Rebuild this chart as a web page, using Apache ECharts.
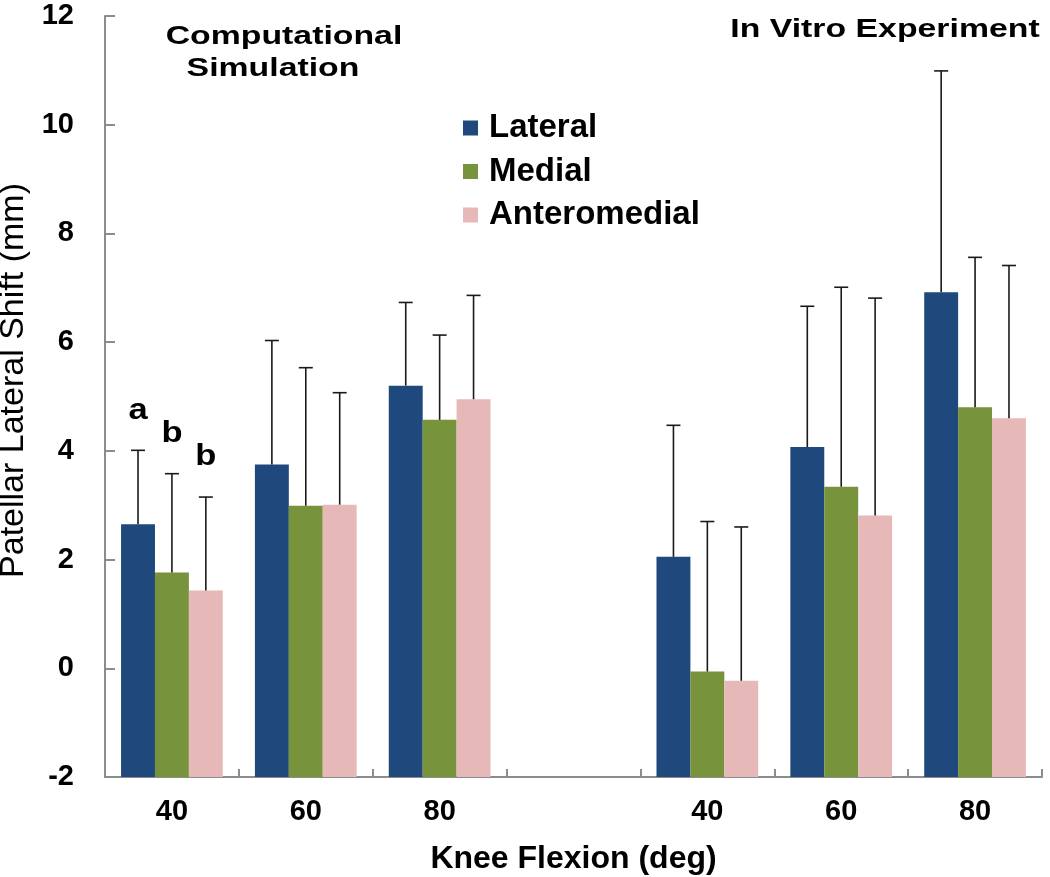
<!DOCTYPE html>
<html><head><meta charset="utf-8">
<script src="https://cdn.jsdelivr.net/npm/echarts@6/dist/echarts.min.js"></script>
<style>html,body{margin:0;padding:0;background:#fff}#c{width:1050px;height:877px}</style>
</head><body><div id="c"></div>
<script>
const categories = ['40', '60', '80', '', '40', '60', '80'];
const seriesNames = ['Lateral', 'Medial', 'Anteromedial'];
const lateral = [2.65, 3.75, 5.20, null, 2.05, 4.07, 6.92];
const medial = [1.76, 2.99, 4.57, null, -0.06, 3.34, 4.80];
const anteromedial = [1.43, 3.01, 4.95, null, -0.23, 2.81, 4.60];
const lateralSD = [1.36, 2.28, 1.53, null, 2.42, 2.59, 4.07];
const medialSD = [1.82, 2.54, 1.56, null, 2.76, 3.67, 2.76];
const anteromedialSD = [1.72, 2.06, 1.91, null, 2.83, 4.00, 2.81];
const lateralLetters = ['a', '', '', '', '', '', ''];
const medialLetters = ['b', '', '', '', '', '', ''];
const anteromedialLetters = ['b', '', '', '', '', '', ''];
const yTicks = { min: -2, max: 12, interval: 2 };

const colors = ['#1F497D', '#77933C', '#E6B9B8'];
const GAP = 0.24;
const FONT = 'Arial, "Liberation Sans", sans-serif';

const chart = echarts.init(document.getElementById('c'), null, { renderer: 'canvas' });

function barSeries(idx, vals) {
  return {
    type: 'bar', name: seriesNames[idx], data: vals,
    barGap: '0%', barCategoryGap: (GAP * 100) + '%',
    itemStyle: { color: colors[idx] }, z: 2
  };
}
function errSeries(idx, means, sds, letters) {
  const data = [];
  means.forEach((m, i) => { if (m !== null) data.push([i, m, sds[i]]); });
  return {
    type: 'custom', name: seriesNames[idx] + ' SD', z: 5, silent: true,
    encode: { x: 0, y: 1 },
    data: data,
    renderItem(params, api) {
      const i = api.value(0), m = api.value(1), sd = api.value(2);
      const catW = api.size([1, 0])[0];
      const bw = catW * (1 - GAP) / 3;
      const base = api.coord([i, m]);
      const x = base[0] + (idx - 1) * bw;
      const top = api.coord([i, m + sd])[1];
      const st = { stroke: '#1a1a1a', lineWidth: 1.6 };
      const children = [
        { type: 'line', shape: { x1: x, y1: base[1], x2: x, y2: top }, style: st },
        { type: 'line', shape: { x1: x - 7, y1: top, x2: x + 7, y2: top }, style: st }
      ];
      const letter = letters[i];
      if (letter) {
        children.push({ type: 'text', x: x, y: top - 40, scaleX: 1.15, style: {
          text: letter, fill: '#000', font: 'bold 30px ' + FONT, align: 'center', verticalAlign: 'middle' } });
      }
      return { type: 'group', children };
    }
  };
}

const option = {
  backgroundColor: '#fff',
  animation: false,
  grid: { left: 105, right: 8, top: 16, bottom: 100, containLabel: false, outerBoundsMode: 'none' },
  legend: {
    data: seriesNames.map(n => ({ name: n, icon: 'rect' })),
    orient: 'vertical', left: 458, top: 106,
    itemWidth: 15, itemHeight: 15, itemGap: 9.5,
    textStyle: { fontFamily: FONT, fontWeight: 'bold', fontSize: 33, color: '#000', lineHeight: 34, padding: [0, 0, 0, 6] }
  },
  xAxis: {
    type: 'category', data: categories,
    axisLine: { onZero: false, lineStyle: { color: '#8c8c8c', width: 2 } },
    axisTick: { show: true, inside: true, length: 8, lineStyle: { color: '#8c8c8c', width: 2 } },
    axisLabel: { fontFamily: FONT, fontWeight: 'bold', fontSize: 29, color: '#000', margin: 20 },
    name: 'Knee Flexion (deg)', nameLocation: 'middle', nameGap: 66,
    nameTextStyle: { fontFamily: FONT, fontWeight: 'bold', fontSize: 32, color: '#000' }
  },
  yAxis: {
    type: 'value', min: yTicks.min, max: yTicks.max, interval: yTicks.interval, startValue: yTicks.min,
    axisLine: { show: true, lineStyle: { color: '#8c8c8c', width: 2 } },
    axisTick: { show: true, inside: true, length: 10, lineStyle: { color: '#8c8c8c', width: 2 } },
    splitLine: { show: false },
    axisLabel: { fontFamily: FONT, fontWeight: 'bold', fontSize: 29, color: '#000', margin: 31 },
    name: 'Patellar Lateral Shift (mm)', nameLocation: 'middle', nameGap: 70,
    nameTextStyle: { fontFamily: FONT, fontWeight: 'normal', fontSize: 34, color: '#000', padding: [0, 0, 0, 32] }
  },
  graphic: [
    { type: 'text', x: 284, y: 37, scaleX: 1.3, style: { text: 'Computational', font: 'bold 26px ' + FONT, fill: '#000', align: 'center', verticalAlign: 'middle' } },
    { type: 'text', x: 273, y: 69, scaleX: 1.3, style: { text: 'Simulation', font: 'bold 26px ' + FONT, fill: '#000', align: 'center', verticalAlign: 'middle' } },
    { type: 'text', x: 885, y: 30, scaleX: 1.3, style: { text: 'In Vitro Experiment', font: 'bold 26px ' + FONT, fill: '#000', align: 'center', verticalAlign: 'middle' } }
  ],
  series: [
    barSeries(0, lateral), barSeries(1, medial), barSeries(2, anteromedial),
    errSeries(0, lateral, lateralSD, lateralLetters),
    errSeries(1, medial, medialSD, medialLetters),
    errSeries(2, anteromedial, anteromedialSD, anteromedialLetters)
  ]
};
chart.setOption(option);
</script>
</body></html>
